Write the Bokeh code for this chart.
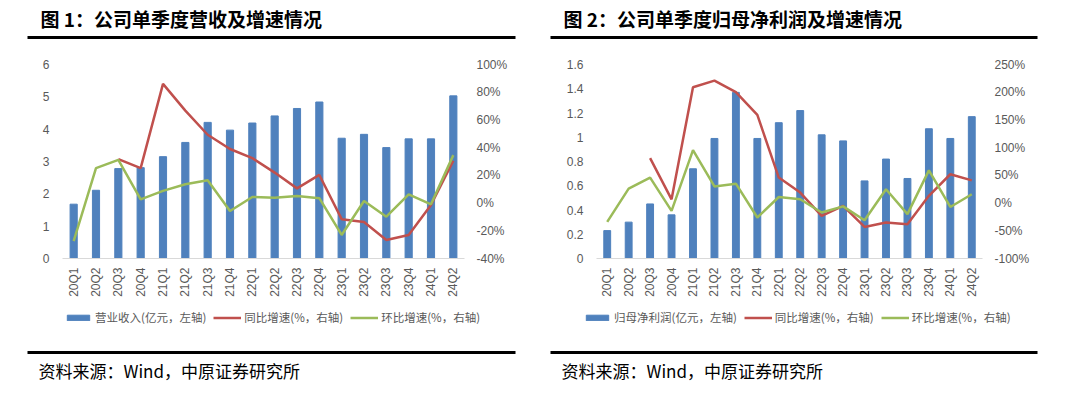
import math
from bokeh.plotting import figure
from bokeh.models import (Range1d, LinearAxis, FactorRange, FixedTicker, PrintfTickFormatter,
                          CustomJSTickFormatter, Label, BoxAnnotation, Legend, LegendItem,
                          ColumnDataSource)
from bokeh.layouts import row, column
from bokeh.embed import file_html
from bokeh.resources import INLINE

NAN = float("nan")

quarters = ["20Q1", "20Q2", "20Q3", "20Q4", "21Q1", "21Q2", "21Q3", "21Q4", "22Q1",
            "22Q2", "22Q3", "22Q4", "23Q1", "23Q2", "23Q3", "23Q4", "24Q1", "24Q2"]

# Figure 1: revenue (100m CNY) and growth (%)
revenue = [1.68, 2.11, 2.78, 2.81, 3.15, 3.59, 4.21, 3.97, 4.19, 4.41, 4.64, 4.84,
           3.72, 3.84, 3.43, 3.70, 3.70, 5.03]
revenue_yoy = [NAN, NAN, 31.7, 25.2, 86.0, 66.7, 49.3, 39.0, 32.4, 22.0, 10.6, 20.3,
               -11.6, -13.7, -26.7, -23.0, -1.4, 30.5]
revenue_qoq = [-27.4, 25.2, 31.2, 2.7, 8.8, 13.6, 16.5, -5.7, 4.4, 3.9, 5.1, 3.5,
               -23.0, 1.5, -9.8, 6.3, -0.9, 34.6]

# Figure 2: net profit attributable (100m CNY) and growth (%)
profit = [0.23, 0.30, 0.45, 0.36, 0.74, 0.99, 1.37, 0.99, 1.12, 1.22, 1.02, 0.97,
          0.64, 0.82, 0.66, 1.07, 0.99, 1.17]
profit_yoy = [NAN, NAN, 81.0, 6.8, 209.0, 221.0, 200.0, 159.0, 46.0, 19.0, -23.0, -5.0,
              -43.0, -35.0, -38.0, 13.0, 52.0, 41.0]
profit_qoq = [-34.0, 26.0, 46.0, -14.0, 95.5, 30.0, 35.0, -26.0, 11.0, 7.0, -17.0, -6.0,
              -31.0, 25.0, -20.0, 59.0, -7.0, 16.0]

rev_left_ticks = [0, 1, 2, 3, 4, 5, 6]
rev_right_ticks = [-40, -20, 0, 20, 40, 60, 80, 100]
prof_left_ticks = [0, 0.2, 0.4, 0.6, 0.8, 1.0, 1.2, 1.4, 1.6]
prof_right_ticks = [-100, -50, 0, 50, 100, 150, 200, 250]

titles = ["图 1：公司单季度营收及增速情况", "图 2：公司单季度归母净利润及增速情况"]
bar_labels = ["营业收入(亿元，左轴)", "归母净利润(亿元，左轴)"]
yoy_label = "同比增速(%，右轴)"
qoq_label = "环比增速(%，右轴)"
source_text = "资料来源：Wind，中原证券研究所"

BLUE = "#4F81BD"
RED = "#C0504D"
GREEN = "#9BBB59"
GRAY = "#595959"
FONT = "Liberation Sans"
CJK = "Noto Sans CJK SC"
W = 534


def noalign(f):
    try:
        f.frame_align = False
    except Exception:
        pass
    return f


def blank(h):
    f = figure(width=W, height=h, output_backend="svg", toolbar_location=None,
               x_range=Range1d(0, W), y_range=Range1d(0, h),
               x_axis_location=None, y_axis_location=None,
               min_border=0, min_border_left=0, min_border_right=0,
               min_border_top=0, min_border_bottom=0)
    f.outline_line_color = None
    f.grid.visible = False
    return noalign(f)


def rule(f, x0, x1, y):
    f.add_layout(BoxAnnotation(left=x0, right=x1, bottom=y, top=y + 3,
                               left_units="screen", right_units="screen",
                               bottom_units="screen", top_units="screen",
                               fill_color="black", fill_alpha=1, line_color=None))


def header(title, tx, x0, x1):
    f = blank(48)
    f.add_layout(Label(x=tx, y=30, x_units="screen", y_units="screen",
                       text=title, text_font=CJK, text_font_size="19px",
                       text_font_style="bold", text_color="black",
                       text_baseline="middle"))
    rule(f, x0, x1, 9.5)
    return f


def footer(bar_label, sx, x0, x1, legx):
    f = blank(91)
    # legend keys: proxy renderers holding no drawable point, styled like the chart's marks
    kb = f.vbar(x=[NAN], top=[NAN], width=1, color=BLUE)
    k1 = f.line(x=[NAN], y=[NAN], color=RED, line_width=2.5)
    k2 = f.line(x=[NAN], y=[NAN], color=GREEN, line_width=2.5)
    legend = Legend(items=[LegendItem(label=bar_label, renderers=[kb]),
                           LegendItem(label=yoy_label, renderers=[k1]),
                           LegendItem(label=qoq_label, renderers=[k2])],
                    orientation="horizontal", location=(legx, 70),
                    padding=0, margin=0, spacing=7, label_standoff=3,
                    glyph_width=28, glyph_height=7, label_height=12, label_width=10,
                    label_text_font_size="11.5px", label_text_color=GRAY,
                    label_text_font=CJK, border_line_color=None,
                    background_fill_alpha=0)
    f.add_layout(legend)
    rule(f, x0, x1, 41.5)
    f.add_layout(Label(x=sx, y=25, x_units="screen", y_units="screen",
                       text=source_text, text_font=CJK, text_font_size="17px",
                       text_color="black", text_baseline="middle"))
    return f


def chart(bars, yoy, qoq, left_ticks, right_ticks, bl, br):
    p = figure(x_range=FactorRange(*quarters, range_padding=0),
               y_range=Range1d(left_ticks[0], left_ticks[-1]),
               width=W, height=256, output_backend="svg", toolbar_location=None,
               min_border_left=bl, min_border_right=br, min_border_top=16,
               min_border_bottom=46)
    noalign(p)
    p.extra_y_ranges = {"pct": Range1d(right_ticks[0], right_ticks[-1])}
    p.outline_line_color = None
    p.grid.visible = False

    src = ColumnDataSource(dict(q=quarters, v=bars, yoy=yoy, qoq=qoq))
    p.vbar(x="q", top="v", width=0.32, source=src, color=BLUE)
    p.line(x="q", y="yoy", source=src, y_range_name="pct", color=RED, line_width=2.5)
    p.line(x="q", y="qoq", source=src, y_range_name="pct", color=GREEN, line_width=2.5)

    xa = p.xaxis[0]
    xa.major_label_orientation = math.pi / 2
    xa.axis_line_color = "#D9D9D9"
    xa.axis_line_width = 1
    xa.major_tick_line_color = None
    xa.major_tick_out = 0
    xa.major_tick_in = 0
    xa.major_label_standoff = 9
    xa.major_label_text_font = FONT
    xa.major_label_text_font_size = "12px"
    xa.major_label_text_color = GRAY

    ya = p.yaxis[0]
    ya.ticker = FixedTicker(ticks=left_ticks)
    ya.formatter = CustomJSTickFormatter(code="return String(Math.round(tick*10)/10)")
    ya.axis_line_color = None
    ya.major_tick_line_color = None
    ya.minor_tick_line_color = None
    ya.major_tick_out = 0
    ya.major_tick_in = 0
    ya.major_label_standoff = 13
    ya.major_label_text_font = FONT
    ya.major_label_text_font_size = "12px"
    ya.major_label_text_color = GRAY

    ra = LinearAxis(y_range_name="pct", ticker=FixedTicker(ticks=right_ticks),
                    formatter=PrintfTickFormatter(format="%d%%"))
    ra.axis_line_color = None
    ra.major_tick_line_color = None
    ra.minor_tick_line_color = None
    ra.major_tick_out = 0
    ra.major_tick_in = 0
    ra.major_label_standoff = 12
    ra.major_label_text_font = FONT
    ra.major_label_text_font_size = "12px"
    ra.major_label_text_color = GRAY
    p.add_layout(ra, "right")
    return p


c1 = chart(revenue, revenue_yoy, revenue_qoq, rev_left_ticks, rev_right_ticks, 62, 70)
c2 = chart(profit, profit_yoy, profit_qoq, prof_left_ticks, prof_right_ticks, 62, 86)

left = column(header(titles[0], 40, 27, 515), c1,
              footer(bar_labels[0], 38, 27, 515, 64), spacing=0)
right = column(header(titles[1], 29, 16, 503), c2,
               footer(bar_labels[1], 27, 16, 503, 49), spacing=0)
page = row(left, right, spacing=0)
open("out.html", "w").write(file_html(page, INLINE))
